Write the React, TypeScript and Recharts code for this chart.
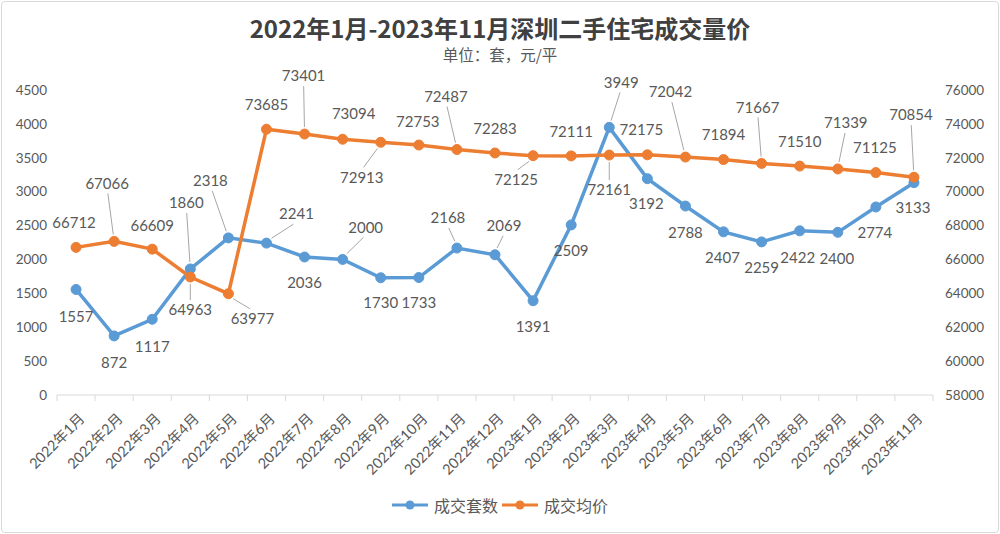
import React from 'react';
import {
  ComposedChart,
  Line,
  XAxis,
  YAxis,
  LabelList,
} from 'recharts';

const months = [
  '2022年1月', '2022年2月', '2022年3月', '2022年4月', '2022年5月', '2022年6月',
  '2022年7月', '2022年8月', '2022年9月', '2022年10月', '2022年11月', '2022年12月',
  '2023年1月', '2023年2月', '2023年3月', '2023年4月', '2023年5月', '2023年6月',
  '2023年7月', '2023年8月', '2023年9月', '2023年10月', '2023年11月',
];

const volume = [
  1557, 872, 1117, 1860, 2318, 2241, 2036, 2000, 1730, 1733, 2168, 2069,
  1391, 2509, 3949, 3192, 2788, 2407, 2259, 2422, 2400, 2774, 3133,
];

const price = [
  66712, 67066, 66609, 64963, 63977, 73685, 73401, 73094, 72913, 72753, 72487, 72283,
  72125, 72111, 72161, 72175, 72042, 71894, 71667, 71510, 71339, 71125, 70854,
];

const volumeTicks = [0, 500, 1000, 1500, 2000, 2500, 3000, 3500, 4000, 4500];
const priceTicks = [58000, 60000, 62000, 64000, 66000, 68000, 70000, 72000, 74000, 76000];

// label placement: [dx, dy, leader line]
const volumeLabelPos = [
  [0, 27, 0], [0, 27, 0], [0, 27, 0], [-4, -66, 1], [-18, -57, 1], [30, -29, 1],
  [0, 26, 0], [23, -32, 1], [0, 25, 0], [0, 25, 0], [-9, -30, 1], [9, -29, 1],
  [0, 26, 0], [0, 26, 0], [12, -45, 1], [-1, 25, 0], [0, 27, 0], [-1, 26, 0],
  [0, 26, 0], [-2, 27, 0], [-1, 26, 0], [-1, 26, 0], [-1, 25, 0],
];
const priceLabelPos = [
  [-2, -25, 0], [-7, -58, 1], [0, -23, 0], [0, 33, 1], [24, 25, 1], [0, -24, 0],
  [-1, -58, 1], [11, -25, 0], [-19, 35, 1], [-1, -23, 0], [-11, -53, 1], [0, -24, 0],
  [-17, 24, 1], [0, -24, 0], [0, 35, 1], [-6, -25, 0], [-15, -65, 1], [0, -25, 0],
  [-4, -56, 1], [0, -24, 0], [8, -46, 1], [-1, -25, 0], [-3, -62, 1],
];

const BLUE = '#5B9BD5';
const ORANGE = '#ED7D31';
const TEXT = '#595959';
const FONT = "Lato, 'Noto Sans CJK SC', sans-serif";

const W = 1000;
const H = 534;
const PLOT_LEFT = 57;
const PLOT_RIGHT = 933;
const BAND = (PLOT_RIGHT - PLOT_LEFT) / months.length;

const data = months.map((m, i) => ({ month: m, volume: volume[i], price: price[i] }));

const makeLabel = (pos: number[][]) => (props: any) => {
  const { x, y, index, value } = props;
  const [dx, dy, leader] = pos[index];
  const lx = x + dx;
  const ly = y + dy;
  let line = null;
  if (leader) {
    const len = Math.sqrt(dx * dx + dy * dy);
    const sx = x + (dx / len) * 7;
    const sy = y + (dy / len) * 7;
    const ex = lx - dx * 0.1;
    const ey = ly - Math.sign(dy) * 10;
    line = <line x1={sx} y1={sy} x2={ex} y2={ey} stroke="#a6a6a6" strokeWidth={1} />;
  }
  return (
    <g>
      {line}
      <text x={lx} y={ly} dy="0.35em" textAnchor="middle" fontSize={15} fill={TEXT} fontFamily={FONT}>
        {value}
      </text>
    </g>
  );
};

const MonthTick = (props: any) => {
  const { x, y, payload, index } = props;
  return (
    <g>
      <line x1={x - BAND / 2} y1={y} x2={x - BAND / 2} y2={y + 6} stroke="#d9d9d9" />
      {index === months.length - 1 && (
        <line x1={x + BAND / 2} y1={y} x2={x + BAND / 2} y2={y + 6} stroke="#d9d9d9" />
      )}
      <text
        transform={`translate(${x + 6},${y + 21}) rotate(-45)`}
        textAnchor="end"
        dy="0.35em"
        fontSize={14.5}
        fill={TEXT}
        fontFamily={FONT}
      >
        {payload.value}
      </text>
    </g>
  );
};

const LegendItem = ({ color, label }: { color: string; label: string }) => (
  <div style={{ display: 'flex', alignItems: 'center', gap: 6 }}>
    <svg width={36} height={12}>
      <line x1={0} y1={6} x2={36} y2={6} stroke={color} strokeWidth={3} />
      <circle cx={18} cy={6} r={4.5} fill={color} />
    </svg>
    <span style={{ fontSize: 16, color: TEXT, fontFamily: "'Noto Sans CJK SC', sans-serif" }}>{label}</span>
  </div>
);

export default function App() {
  return (
    <div style={{ position: 'fixed', left: 0, top: 0, width: W, height: H, background: '#fff' }}>
      <div
        style={{
          position: 'absolute', left: 1, top: 1, width: W - 4, height: H - 4,
          border: '1px solid #d9d9d9', borderRadius: 4, pointerEvents: 'none',
        }}
      />
      <div
        style={{
          position: 'absolute', top: 15, left: 0, width: W, textAlign: 'center',
          fontFamily: "'Noto Sans CJK SC', sans-serif", fontWeight: 700, fontSize: 24,
          color: '#404040', lineHeight: '26px',
        }}
      >
        2022年1月-2023年11月深圳二手住宅成交量价
      </div>
      <div
        style={{
          position: 'absolute', top: 45, left: 0, width: W, textAlign: 'center',
          fontFamily: "'Noto Sans CJK SC', sans-serif", fontSize: 15.5, color: TEXT,
          lineHeight: '18px',
        }}
      >
        单位：套，元/平
      </div>
      <ComposedChart
        width={W}
        height={H}
        data={data}
        margin={{ top: 90, right: 0, bottom: 39, left: 0 }}
        style={{ position: 'absolute', left: 0, top: 0 }}
      >
        <XAxis
          dataKey="month"
          height={100}
          interval={0}
          padding={{ left: BAND / 2, right: BAND / 2 }}
          tickSize={0}
          tickMargin={0}
          tickLine={false}
          axisLine={{ stroke: '#d9d9d9' }}
          tick={<MonthTick />}
        />
        <YAxis
          yAxisId="left"
          width={57}
          domain={[0, 4500]}
          ticks={volumeTicks}
          interval={0}
          axisLine={false}
          tickLine={false}
          tickMargin={4}
          tick={{ fontSize: 13.5, fill: TEXT, fontFamily: FONT }}
        />
        <YAxis
          yAxisId="right"
          orientation="right"
          width={67}
          domain={[58000, 76000]}
          ticks={priceTicks}
          interval={0}
          axisLine={false}
          tickLine={false}
          tickMargin={6}
          tick={{ fontSize: 13.5, fill: TEXT, fontFamily: FONT }}
        />
        <Line
          yAxisId="left"
          dataKey="volume"
          stroke={BLUE}
          strokeWidth={3.5}
          dot={{ r: 5, fill: BLUE, stroke: BLUE, strokeWidth: 1 }}
          isAnimationActive={false}
        >
          <LabelList dataKey="volume" content={makeLabel(volumeLabelPos)} />
        </Line>
        <Line
          yAxisId="right"
          dataKey="price"
          stroke={ORANGE}
          strokeWidth={3.5}
          dot={{ r: 5, fill: ORANGE, stroke: ORANGE, strokeWidth: 1 }}
          isAnimationActive={false}
        >
          <LabelList dataKey="price" content={makeLabel(priceLabelPos)} />
        </Line>
      </ComposedChart>
      <div
        style={{
          position: 'absolute', top: 494, left: 0, width: W, display: 'flex',
          justifyContent: 'center', gap: 4, lineHeight: '22px',
        }}
      >
        <LegendItem color={BLUE} label="成交套数" />
        <LegendItem color={ORANGE} label="成交均价" />
      </div>
    </div>
  );
}
